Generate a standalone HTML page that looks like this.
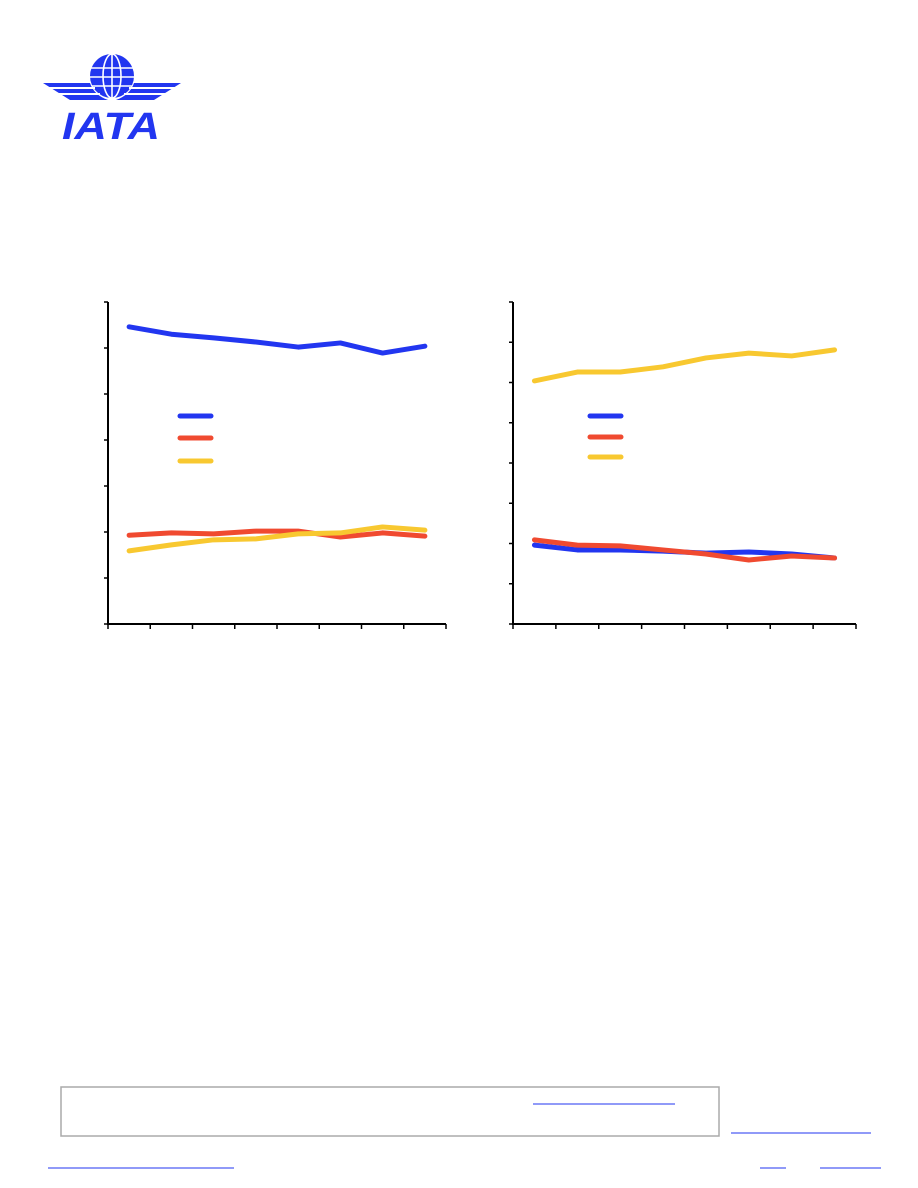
<!DOCTYPE html>
<html><head><meta charset="utf-8"><style>
body{margin:0;background:#fff;width:918px;height:1188px;overflow:hidden;position:relative;font-family:"Liberation Sans",sans-serif}
.abs{position:absolute}
</style></head><body>
<svg class="abs" style="left:0;top:0" width="918" height="1188">
<g fill="#2236f0">
<circle cx="112" cy="76" r="22"/>
<g stroke="#fff" stroke-width="1.6" fill="none">
<ellipse cx="112" cy="76" rx="9" ry="22"/><line x1="112" y1="54" x2="112" y2="98"/>
<line x1="91" y1="68" x2="133" y2="68"/><line x1="90" y1="77" x2="134" y2="77"/><line x1="92" y1="86" x2="132" y2="86"/></g>
<path d="M43 83 L90 83 Q94 95 108 100 L70 100 Z"/>
<path d="M181 83 L134 83 Q130 95 116 100 L154 100 Z"/>
<g stroke="#fff" stroke-width="2"><line x1="48" y1="88" x2="95" y2="88"/><line x1="55" y1="94" x2="100" y2="94"/><line x1="129" y1="88" x2="176" y2="88"/><line x1="124" y1="94" x2="169" y2="94"/></g>
<text x="62" y="139" textLength="98" lengthAdjust="spacingAndGlyphs" font-size="38" font-weight="bold" font-style="italic" font-family="Liberation Sans, sans-serif">IATA</text>
</g>
<g id="c1"></g>
<g id="c2"></g>
<rect x="61" y="1087" width="658" height="49" fill="none" stroke="#aaa" stroke-width="1.5"/>
<g stroke="#2236f0" stroke-width="1">
<line x1="533" y1="1104" x2="675" y2="1104"/>
<line x1="731" y1="1133" x2="871" y2="1133"/>
<line x1="48" y1="1168" x2="234" y2="1168"/>
<line x1="760" y1="1168" x2="786" y2="1168"/>
<line x1="820" y1="1168" x2="881" y2="1168"/>
</g>
</svg>
<script>
const leftBlue=[64.6,63.0,62.2,61.3,60.2,61.1,58.9,60.4];
const leftRed=[19.3,19.8,19.6,20.2,20.2,18.9,19.8,19.1];
const leftYellow=[15.9,17.2,18.3,18.5,19.6,19.8,21.1,20.4];
const rightBlue=[19.6,18.4,18.4,18.1,17.6,17.9,17.4,16.4];
const rightRed=[20.9,19.6,19.4,18.4,17.4,15.9,16.9,16.4];
const rightYellow=[60.4,62.6,62.6,63.9,66.1,67.3,66.6,68.1];
const NS='http://www.w3.org/2000/svg';
const COLORS={blue:'#2236f0',red:'#f04a30',yellow:'#f8c830'};
function mk(tag,attrs,parent){const e=document.createElementNS(NS,tag);for(const k in attrs)e.setAttribute(k,attrs[k]);parent.appendChild(e);return e;}
function chart(g,x0,x1,y0,y1,max,step,series,legY,legX,prefix){
  const n=8,yT=v=>y1-(v/max)*(y1-y0),bw=(x1-x0)/n,xT=i=>x0+bw*(i+0.5);
  const ax=mk('path',{d:`M${x0} ${y0} V${y1} H${x1}`,stroke:'#000','stroke-width':2,fill:'none'},g);
  
  
  for(let v=0;v<=max;v+=step){const t=mk('line',{x1:x0-4,x2:x0,y1:yT(v),y2:yT(v),stroke:'#000','stroke-width':1.5},g);
    
    }
  for(let i=0;i<=n;i++){const t=mk('line',{x1:x0+bw*i,x2:x0+bw*i,y1:y1,y2:y1+5,stroke:'#000','stroke-width':1.5},g);
    
    }
  series.forEach(([name,data,col],k)=>{
    const p=mk('polyline',{points:data.map((v,i)=>xT(i)+','+yT(v)).join(' '),stroke:COLORS[col],'stroke-width':5,fill:'none','stroke-linecap':'round','stroke-linejoin':'round'},g);
    
    
  });
  ['blue','red','yellow'].forEach((c,k)=>{
    const l=mk('line',{x1:legX,x2:legX+31,y1:legY[k],y2:legY[k],stroke:COLORS[c],'stroke-width':5,'stroke-linecap':'round'},g);
    
    
  });
}
chart(document.getElementById('c1'),108,446,302,624,70,10,[['blue',leftBlue,'blue'],['red',leftRed,'red'],['yellow',leftYellow,'yellow']],[416,438,461],180,'left');
chart(document.getElementById('c2'),513,856,302,624,80,10,[['yellow',rightYellow,'yellow'],['blue',rightBlue,'blue'],['red',rightRed,'red']],[416,437,457],590,'right');
</script>
</body></html>
